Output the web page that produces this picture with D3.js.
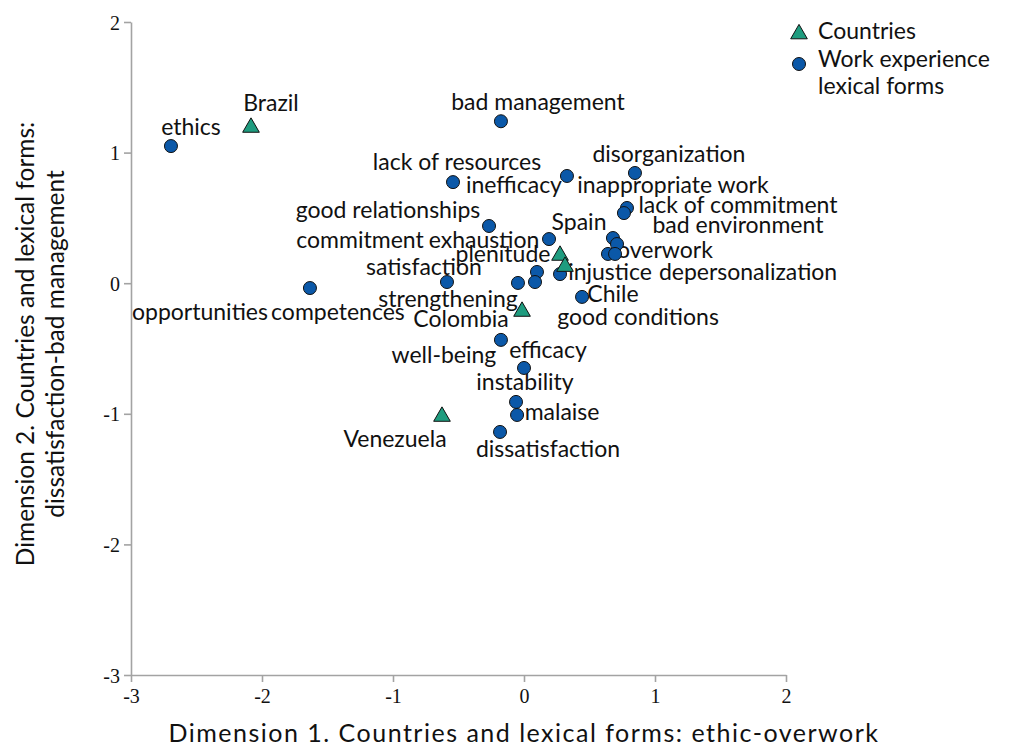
<!DOCTYPE html>
<html><head><meta charset="utf-8">
<script src="https://cdn.jsdelivr.net/npm/d3@7"></script>
<style>
body{margin:0;background:#fff;}
svg{display:block;}
.lbl{font-family:"Lato","Open Sans",sans-serif;font-size:23px;fill:#111;}
.xt{font-family:"Lato","Open Sans",sans-serif;font-size:25px;letter-spacing:1.5px;fill:#111;}
.yt{font-family:"Lato","Open Sans",sans-serif;font-size:24.5px;fill:#111;}
.tick text{font-family:"Liberation Serif","DejaVu Serif",serif;font-size:20px;fill:#111;}
</style></head>
<body>
<svg id="c" width="1011" height="749"></svg>
<script>
// Lexical forms (dimension 1, dimension 2)
const formNames = ["ethics","bad management","lack of resources","inefficacy","disorganization","inappropriate work","lack of commitment","good relationships","exhaustion","bad environment","commitment","overwork","depersonalization","plenitude","strengthening","competences","injustice","satisfaction","opportunities","good conditions","well-being","efficacy","instability","malaise","dissatisfaction"];
const formDim1 = [-2.695,-0.176,-0.542,0.328,0.847,0.786,0.763,-0.267,0.191,0.679,0.710,0.641,0.695,0.099,0.084,-0.046,0.275,-0.588,-1.634,0.443,-0.176,0.000,-0.061,-0.053,-0.183];
const formDim2 = [1.050,1.240,0.774,0.821,0.844,0.576,0.537,0.438,0.338,0.346,0.300,0.224,0.224,0.086,0.009,0.002,0.070,0.009,-0.037,-0.105,-0.434,-0.649,-0.909,-1.009,-1.139];

// Countries
const countryNames = ["Brazil","Spain","Chile","Colombia","Venezuela"];
const countryDim1 = [-2.084,0.275,0.313,-0.015,-0.626];
const countryDim2 = [1.204,0.224,0.139,-0.205,-1.009];

const tickValues = [-3,-2,-1,0,1,2];
const legendLabels = ["Countries","Work experience","lexical forms"];
const xTitle = "Dimension 1. Countries and lexical forms: ethic-overwork";
const yTitle = ["Dimension 2. Countries and lexical forms:","dissatisfaction-bad management"];

// label placement (pixel offsets of label centre/baseline from the mark)
const formLabelOffsets = [[20,-11],[37,-11],[4,-12],[-53,17],[34,-11],[46,-15],[114,0],[-101,-8],[-65,9],[125,-5],[-257,4],[57,4],[133,26],[-34,-10],[-87,25],[-180,37],[50,6],[-23,-7],[-110,32],[56,28],[-57,23],[24,-10],[9,-12],[45,5],[48,25]];
const countryLabelOffsets = [[20,-15],[19,-24],[48,37],[-61,17],[-47,32]];

const forms = formNames.map((n,i)=>({name:n,x:formDim1[i],y:formDim2[i],off:formLabelOffsets[i]}));
const countries = countryNames.map((n,i)=>({name:n,x:countryDim1[i],y:countryDim2[i],off:countryLabelOffsets[i]}));

const svg = d3.select("#c");
const x = d3.scaleLinear().domain([-3,2]).range([131,786]);
const y = d3.scaleLinear().domain([-3,2]).range([675,22]);
const axisColor = "#a3a3a3";

const gx = svg.append("g").attr("transform","translate(0,675)")
  .call(d3.axisBottom(x).tickValues(tickValues).tickSize(7).tickSizeOuter(0));
const gy = svg.append("g").attr("transform","translate(131,0)")
  .call(d3.axisLeft(y).tickValues(tickValues).tickSize(7).tickSizeOuter(0));
[gx,gy].forEach(g=>{
  g.select(".domain").attr("stroke",axisColor).attr("stroke-width",1.6);
  g.selectAll(".tick line").attr("stroke",axisColor).attr("stroke-width",1.6);
  g.selectAll(".tick text").text(d=>d<0?"-"+Math.abs(d):String(d));
});
gx.selectAll(".tick text").attr("dy","0.9em");
gy.selectAll(".tick text").attr("x",-11).attr("dy","0.35em");

// titles
svg.append("text").attr("class","xt").attr("x",524).attr("y",742).attr("text-anchor","middle").text(xTitle);
yTitle.forEach((t,i)=>{
  svg.append("text").attr("class","yt").attr("text-anchor","middle")
    .attr("transform",`translate(${34+i*30},344) rotate(-90)`).text(t);
});

const tri = d3.symbol().type(d3.symbolTriangle).size(120);
const triColor = "#1f9c7f", circColor = "#0b58a8";

// labels
svg.append("g").selectAll("text").data(forms.concat(countries)).join("text")
  .attr("class","lbl").attr("text-anchor","middle")
  .attr("x",d=>x(d.x)+d.off[0]).attr("y",d=>y(d.y)+d.off[1]).text(d=>d.name);

// marks
svg.append("g").selectAll("circle").data(forms).join("circle")
  .attr("cx",d=>x(d.x)).attr("cy",d=>y(d.y)).attr("r",6.5)
  .attr("fill",circColor).attr("stroke","#111").attr("stroke-width",1);
svg.append("g").selectAll("path").data(countries).join("path")
  .attr("d",tri).attr("transform",d=>`translate(${x(d.x)},${y(d.y)+1.5})`)
  .attr("fill",triColor).attr("stroke","#111").attr("stroke-width",1);

// legend
const lg = svg.append("g");
lg.append("path").attr("d",tri).attr("transform","translate(799,34)").attr("fill",triColor).attr("stroke","#111");
lg.append("circle").attr("cx",799).attr("cy",64).attr("r",6.5).attr("fill",circColor).attr("stroke","#111");
lg.append("text").attr("class","lbl").attr("x",818).attr("y",39).text(legendLabels[0]);
lg.append("text").attr("class","lbl").attr("x",818).attr("y",67).text(legendLabels[1]);
lg.append("text").attr("class","lbl").attr("x",818).attr("y",94).text(legendLabels[2]);
</script>
</body></html>
